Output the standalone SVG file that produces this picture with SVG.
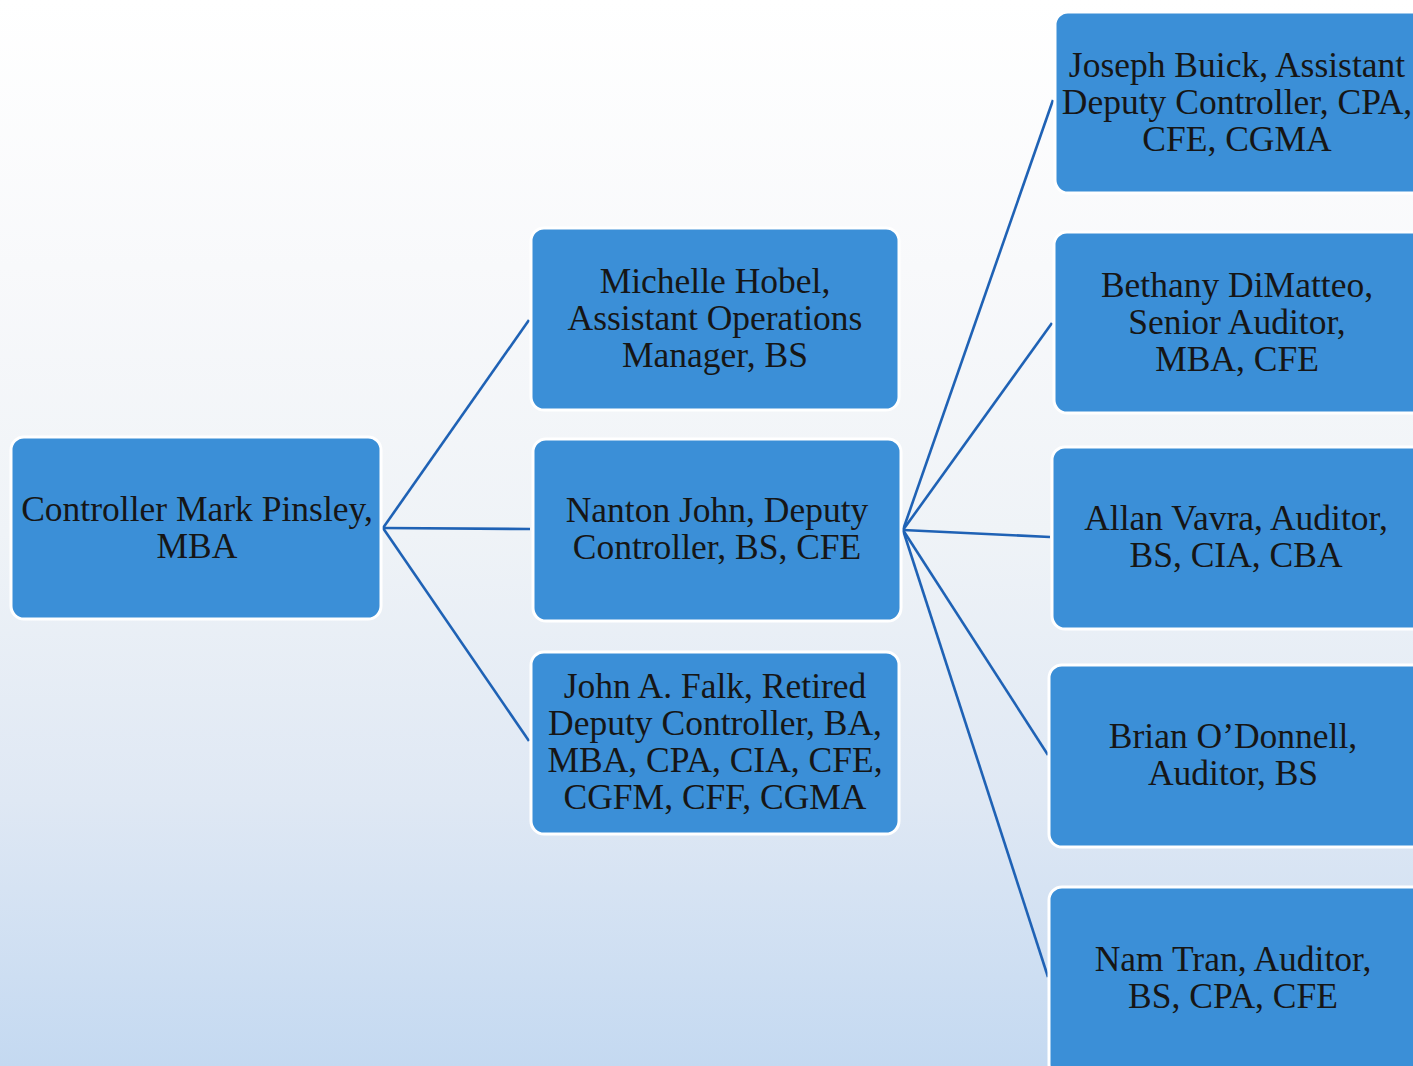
<svg xmlns="http://www.w3.org/2000/svg" width="1413" height="1066" viewBox="0 0 1413 1066">
<defs>
<linearGradient id="bg" x1="0" y1="0" x2="0" y2="1">
<stop offset="0" stop-color="#ffffff"/>
<stop offset="0.25" stop-color="#f8f9fb"/>
<stop offset="0.5" stop-color="#eff3f7"/>
<stop offset="0.75" stop-color="#dfe8f4"/>
<stop offset="1" stop-color="#c4d9f1"/>
</linearGradient>
</defs>
<style>
.box{fill:#3b8fd7;stroke:#ffffff;stroke-width:3}
.t{font-family:'Liberation Serif','DejaVu Serif',serif;font-size:35.5px;fill:#161616;text-anchor:middle}
.c{stroke:#1f62b5;stroke-width:2.6;fill:none}
</style>
<rect x="0" y="0" width="1413" height="1066" fill="url(#bg)"/>
<g id="connectors">
<line class="c" x1="383" y1="528" x2="529" y2="320"/>
<line class="c" x1="383" y1="528" x2="530" y2="529"/>
<line class="c" x1="383" y1="528" x2="529" y2="741"/>
<line class="c" x1="903" y1="530" x2="1053" y2="100"/>
<line class="c" x1="903" y1="530" x2="1052" y2="323"/>
<line class="c" x1="903" y1="530" x2="1050" y2="537"/>
<line class="c" x1="903" y1="530" x2="1048" y2="755"/>
<line class="c" x1="903" y1="530" x2="1048" y2="977"/>
</g>
<g id="n-controller">
<rect class="box" x="11" y="437" width="370" height="182" rx="13"/>
<text class="t" x="197" y="521">Controller Mark Pinsley,</text>
<text class="t" x="197" y="558">MBA</text>
</g>
<g id="n-michelle">
<rect class="box" x="531" y="228" width="368" height="182" rx="13"/>
<text class="t" x="715" y="293">Michelle Hobel,</text>
<text class="t" x="715" y="330">Assistant Operations</text>
<text class="t" x="715" y="367">Manager, BS</text>
</g>
<g id="n-nanton">
<rect class="box" x="533" y="439" width="368" height="182" rx="13"/>
<text class="t" x="717" y="522">Nanton John, Deputy</text>
<text class="t" x="717" y="559">Controller, BS, CFE</text>
</g>
<g id="n-falk">
<rect class="box" x="531" y="652" width="368" height="182" rx="13"/>
<text class="t" x="715" y="698">John A. Falk, Retired</text>
<text class="t" x="715" y="735">Deputy Controller, BA,</text>
<text class="t" x="715" y="772">MBA, CPA, CIA, CFE,</text>
<text class="t" x="715" y="809">CGFM, CFF, CGMA</text>
</g>
<g id="n-joseph">
<rect class="box" x="1055" y="12" width="375" height="181" rx="13"/>
<text class="t" x="1237" y="77">Joseph Buick, Assistant</text>
<text class="t" x="1237" y="114">Deputy Controller, CPA,</text>
<text class="t" x="1237" y="151">CFE, CGMA</text>
</g>
<g id="n-bethany">
<rect class="box" x="1054" y="232" width="375" height="181" rx="13"/>
<text class="t" x="1237" y="297">Bethany DiMatteo,</text>
<text class="t" x="1237" y="334">Senior Auditor,</text>
<text class="t" x="1237" y="371">MBA, CFE</text>
</g>
<g id="n-allan">
<rect class="box" x="1052" y="447" width="378" height="182" rx="13"/>
<text class="t" x="1236" y="530">Allan Vavra, Auditor,</text>
<text class="t" x="1236" y="567">BS, CIA, CBA</text>
</g>
<g id="n-brian">
<rect class="box" x="1049" y="665" width="381" height="182" rx="13"/>
<text class="t" x="1233" y="748">Brian O’Donnell,</text>
<text class="t" x="1233" y="785">Auditor, BS</text>
</g>
<g id="n-nam">
<rect class="box" x="1049" y="887" width="381" height="190" rx="13"/>
<text class="t" x="1233" y="971">Nam Tran, Auditor,</text>
<text class="t" x="1233" y="1008">BS, CPA, CFE</text>
</g>
</svg>
